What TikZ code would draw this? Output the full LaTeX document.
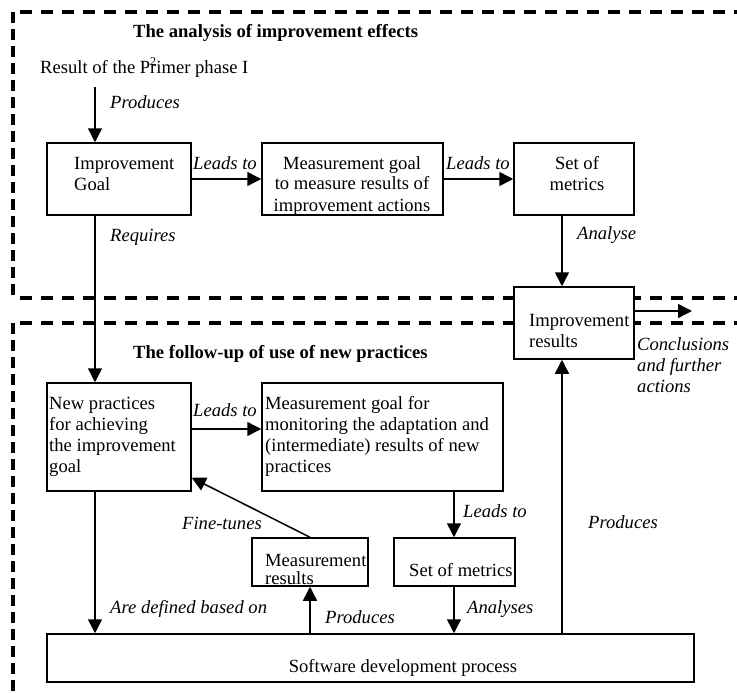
\documentclass[tikz,border=0pt]{standalone}
\usepackage{fontspec}
\setmainfont{Liberation Serif}
\usetikzlibrary{arrows.meta,fit,calc}

\begin{document}
\begin{tikzpicture}[x=1pt,y=-1pt,
  box/.style={draw, line width=1.5pt, fill=white, inner sep=0pt},
  txt/.style={inner sep=0pt, font=\fontsize{18.6}{21}\selectfont, align=left},
  lbl/.style={inner sep=0pt, font=\fontsize{18.6}{21}\selectfont\itshape, align=left},
  ttl/.style={inner sep=0pt, font=\fontsize{18.6}{21}\selectfont\bfseries},
  arr/.style={line width=1.5pt, -{Triangle[length=14pt,width=14pt]}},
  hdash/.style={line width=3.5pt, dash pattern=on 12pt off 9pt},
  vdash/.style={line width=3.5pt, dash pattern=on 11pt off 6pt}]

\useasboundingbox (0,0) rectangle (737,693);
\clip (0,0) rectangle (737,693);

% dashed frames of the two parts
\draw[vdash] (13,12) -- (13,298);
\draw[hdash] (20,12) -- (745,12);
\draw[hdash] (20,298) -- (745,298);
\draw[vdash] (13,323) -- (13,700);
\draw[hdash] (20,323) -- (745,323);

% vertical and horizontal lines of the connectors
\coordinate (xL) at (95,0);
\coordinate (xM) at (310,0);
\coordinate (xS) at (454,0);
\coordinate (xR) at (562,0);
\coordinate (yN) at (0,429);
\coordinate (cend) at (692,311);

% boxes
\node[box, fit={(47,143) (191,215)}] (ig) {};
\node[box, fit={(262,143) (443,215)}] (mg1) {};
\node[box, fit={(514,143) (634,215)}] (sm1) {};
\node[box, fit={(514,287) (634,359)}] (ir) {};
\node[box, fit={(47,383) (191,491)}] (np) {};
\node[box, fit={(262,383) (503,491)}] (mg2) {};
\node[box, fit={(252,538) (368,586)}] (mr) {};
\node[box, fit={(394,538) (515,586)}] (sm2) {};
\node[box, fit={(47,634) (694,682)}] (sdp) {};

% titles
\node[ttl, anchor=base west] (t1) at (133,38) {The analysis of improvement effects};
\node[ttl, anchor=base west] (t2) at (133,358) {The follow-up of use of new practices};

% texts in and around the boxes (multi-line texts are placed by their last baseline)
\node[txt, anchor=base west] (res) at (40,74) {Result of the P\rlap{\raisebox{0.45em}{\fontsize{12}{12}\selectfont 2}}rimer phase I};
\node[txt, anchor=base west] (igt) at (74,190) {Improvement\\Goal};
\node[txt, anchor=base, align=center] (mg1t) at (352,211) {Measurement goal\\to measure results of\\improvement actions};
\node[txt, anchor=base, align=center] (sm1t) at (577,190) {Set of\\metrics};
\node[txt, anchor=base west] (irt) at (529,347) {Improvement\\results};
\node[txt, anchor=base west] (npt) at (49,472) {New practices\\for achieving\\the improvement\\goal};
\node[txt, anchor=base west] (mg2t) at (265,472) {Measurement goal for\\monitoring the adaptation and\\(intermediate) results of new\\practices};
\node[txt, anchor=base west, font=\fontsize{18.6}{18}\selectfont] (mrt) at (265,584) {Measurement\\results};
\node[txt, anchor=base west] (sm2t) at (409,576) {Set of metrics};
\node[txt, anchor=base] (sdpt) at (403,672) {Software development process};

% connector labels
\node[lbl, anchor=base west] (l1) at (110,109) {Produces};
\node[lbl, anchor=base] (l2) at (225,169) {Leads to};
\node[lbl, anchor=base] (l3) at (478,169) {Leads to};
\node[lbl, anchor=base west] (l4) at (110,241) {Requires};
\node[lbl, anchor=base west] (l5) at (577,239) {Analyse};
\node[lbl, anchor=base west] (l6) at (637,392) {Conclusions\\and further\\actions};
\node[lbl, anchor=base] (l7) at (225,416) {Leads to};
\node[lbl, anchor=base west] (l8) at (182,529) {Fine-tunes};
\node[lbl, anchor=base west] (l9) at (463,517) {Leads to};
\node[lbl, anchor=base west] (l10) at (588,528) {Produces};
\node[lbl, anchor=base west] (l11) at (110,613) {Are defined based on};
\node[lbl, anchor=base west] (l12) at (325,623) {Produces};
\node[lbl, anchor=base west] (l13) at (467,613) {Analyses};

% connectors
\draw[arr] ($(res.south -| xL)+(0,9)$) -- (ig.north -| xL);
\draw[arr] (ig.east) -- (mg1.west);
\draw[arr] (mg1.east) -- (sm1.west);
\draw[arr] (sm1.south -| xR) -- (ir.north -| xR);
\draw[arr] (ir.east |- cend) -- (cend);
\draw[arr] (ig.south -| xL) -- (np.north -| xL);
\draw[arr] (np.east |- yN) -- (mg2.west |- yN);
\draw[arr] (mr.north -| xM) -- ($(np.south east)+(0,-14)$);
\draw[arr] (np.south -| xL) -- (sdp.north -| xL);
\draw[arr] (sdp.north -| xM) -- (mr.south -| xM);
\draw[arr] (mg2.south -| xS) -- (sm2.north -| xS);
\draw[arr] (sm2.south -| xS) -- (sdp.north -| xS);
\draw[arr] (sdp.north -| xR) -- (ir.south -| xR);
\end{tikzpicture}
\end{document}
